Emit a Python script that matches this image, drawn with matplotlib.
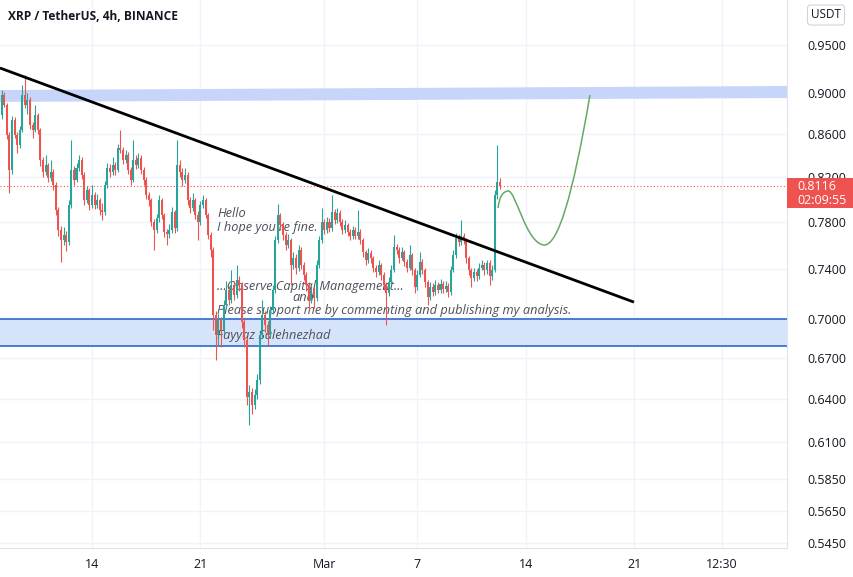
import numpy as np
import matplotlib
matplotlib.use('Agg')
import matplotlib.pyplot as plt
import matplotlib.transforms as mtransforms
from matplotlib.patches import Polygon, Rectangle, PathPatch
from matplotlib.path import Path
from matplotlib.ticker import FixedLocator, FixedFormatter, NullLocator

plt.rcParams['font.family'] = ['Open Sans', 'DejaVu Sans']

# XRP/USDT 4h candles, x axis in days counted from Feb 1 (first bar Feb 8 04:00)
first_day = 7 + 1 / 6
first_open = 0.8787
closes = [
    0.8984, 0.8885, 0.8592, 0.8263, 0.8738, 0.8592,
    0.8497, 0.8640, 0.8984, 0.8885, 0.8934, 0.8689,
    0.8640, 0.8787, 0.8640, 0.8356, 0.8245, 0.8310,
    0.8189, 0.8245, 0.8126, 0.7902, 0.7728, 0.7642,
    0.7684, 0.7625, 0.7946, 0.8263, 0.8171, 0.8282,
    0.8356, 0.8217, 0.7990, 0.8080, 0.7946, 0.8036,
    0.7946, 0.7990, 0.7902, 0.7884, 0.8126, 0.8282,
    0.8245, 0.8310, 0.8263, 0.8469, 0.8450, 0.8356,
    0.8403, 0.8263, 0.8171, 0.8356, 0.8310, 0.8375,
    0.8263, 0.8171, 0.8036, 0.7990, 0.7797, 0.7728,
    0.7832, 0.7990, 0.7858, 0.7711, 0.7693, 0.7728,
    0.7884, 0.7745, 0.8310, 0.8245, 0.8171, 0.8217,
    0.7990, 0.7920, 0.7990, 0.7858, 0.7797, 0.7946,
    0.7990, 0.7858, 0.7684, 0.7557, 0.7028, 0.6873,
    0.6989, 0.6912, 0.7107, 0.7228, 0.7147, 0.7268,
    0.7187, 0.7308, 0.7268, 0.6974, 0.6835, 0.6416,
    0.6450, 0.6357, 0.6428, 0.6536, 0.6873, 0.7028,
    0.6950, 0.6873, 0.7067, 0.7228, 0.7642, 0.7858,
    0.7771, 0.7684, 0.7599, 0.7642, 0.7432, 0.7490,
    0.7407, 0.7557, 0.7432, 0.7349, 0.7268, 0.7147,
    0.7228, 0.7163, 0.7432, 0.7642, 0.7797, 0.7728,
    0.7797, 0.7745, 0.7884, 0.7815, 0.7876, 0.7797,
    0.7728, 0.7771, 0.7711, 0.7676, 0.7728, 0.7676,
    0.7711, 0.7642, 0.7540, 0.7473, 0.7532, 0.7490,
    0.7407, 0.7374, 0.7432, 0.7349, 0.7268, 0.7203,
    0.7292, 0.7390, 0.7582, 0.7557, 0.7490, 0.7540,
    0.7457, 0.7407, 0.7515, 0.7390, 0.7252, 0.7349,
    0.7457, 0.7390, 0.7292, 0.7171, 0.7252, 0.7212,
    0.7268, 0.7228, 0.7276, 0.7236, 0.7260, 0.7212,
    0.7390, 0.7515, 0.7659, 0.7625, 0.7676, 0.7642,
    0.7490, 0.7390, 0.7325, 0.7374, 0.7341, 0.7407,
    0.7432, 0.7390, 0.7448, 0.7341, 0.7390, 0.8036,
    0.8153, 0.8116,
]
highs = [
    0.9030, 0.9010, 0.8900, 0.8620, 0.8780, 0.8770,
    0.8620, 0.8680, 0.9086, 0.9187, 0.9000, 0.8960,
    0.8720, 0.8885, 0.8810, 0.8660, 0.8380, 0.8400,
    0.8330, 0.8356, 0.8270, 0.8150, 0.7930, 0.7760,
    0.7750, 0.7720, 0.7990, 0.8544, 0.8300, 0.8330,
    0.8403, 0.8380, 0.8240, 0.8120, 0.8100, 0.8126,
    0.8060, 0.8040, 0.8010, 0.7960, 0.8160, 0.8330,
    0.8320, 0.8380, 0.8340, 0.8510, 0.8640, 0.8480,
    0.8450, 0.8430, 0.8290, 0.8544, 0.8400, 0.8420,
    0.8400, 0.8290, 0.8200, 0.8060, 0.8010, 0.7820,
    0.7870, 0.8036, 0.8010, 0.7880, 0.7740, 0.7780,
    0.7930, 0.7900, 0.8544, 0.8360, 0.8280, 0.8280,
    0.8240, 0.8020, 0.8050, 0.8010, 0.7890, 0.7980,
    0.8036, 0.8010, 0.7880, 0.7710, 0.7580, 0.7060,
    0.7040, 0.7010, 0.7150, 0.7300, 0.7260, 0.7390,
    0.7300, 0.7432, 0.7340, 0.7290, 0.7000, 0.6860,
    0.6500, 0.6480, 0.6470, 0.6580, 0.6900, 0.7147,
    0.7060, 0.6980, 0.7100, 0.7270, 0.7680, 0.7955,
    0.7880, 0.7800, 0.7710, 0.7690, 0.7660, 0.7540,
    0.7520, 0.7600, 0.7580, 0.7460, 0.7370, 0.7290,
    0.7270, 0.7250, 0.7470, 0.7680, 0.7920, 0.7820,
    0.7840, 0.7830, 0.8036, 0.7910, 0.7920, 0.7900,
    0.7820, 0.7810, 0.7790, 0.7740, 0.7760, 0.7750,
    0.7902, 0.7740, 0.7660, 0.7560, 0.7570, 0.7560,
    0.7510, 0.7430, 0.7470, 0.7450, 0.7370, 0.7290,
    0.7330, 0.7430, 0.7684, 0.7610, 0.7580, 0.7580,
    0.7560, 0.7480, 0.7599, 0.7530, 0.7410, 0.7390,
    0.7540, 0.7480, 0.7410, 0.7310, 0.7290, 0.7280,
    0.7310, 0.7290, 0.7320, 0.7300, 0.7300, 0.7280,
    0.7420, 0.7560, 0.7700, 0.7690, 0.7815, 0.7700,
    0.7660, 0.7510, 0.7410, 0.7410, 0.7400, 0.7450,
    0.7470, 0.7460, 0.7473, 0.7470, 0.7430, 0.8080,
    0.8497, 0.8190,
]
lows = [
    0.8750, 0.8860, 0.8550, 0.8050, 0.8230, 0.8560,
    0.8420, 0.8470, 0.8620, 0.8850, 0.8800, 0.8650,
    0.8560, 0.8620, 0.8600, 0.8300, 0.8200, 0.8220,
    0.8150, 0.8160, 0.8080, 0.7860, 0.7680, 0.7460,
    0.7600, 0.7550, 0.7600, 0.7920, 0.8130, 0.8150,
    0.8250, 0.8180, 0.7950, 0.7960, 0.7900, 0.7920,
    0.7910, 0.7920, 0.7858, 0.7815, 0.7860, 0.8100,
    0.8200, 0.8220, 0.8220, 0.8240, 0.8420, 0.8320,
    0.8330, 0.8230, 0.8126, 0.8150, 0.8270, 0.8280,
    0.8230, 0.8130, 0.8000, 0.7940, 0.7760, 0.7557,
    0.7700, 0.7800, 0.7820, 0.7670, 0.7600, 0.7660,
    0.7700, 0.7700, 0.7720, 0.8200, 0.8120, 0.8140,
    0.7950, 0.7880, 0.7890, 0.7820, 0.7642, 0.7770,
    0.7920, 0.7830, 0.7650, 0.7500, 0.6912, 0.6685,
    0.6800, 0.6782, 0.6890, 0.7080, 0.7110, 0.7120,
    0.7150, 0.7160, 0.7220, 0.6930, 0.6780, 0.6360,
    0.6216, 0.6290, 0.6330, 0.6400, 0.6510, 0.6850,
    0.6900, 0.6800, 0.6850, 0.7040, 0.7200, 0.7620,
    0.7730, 0.7640, 0.7560, 0.7570, 0.7268, 0.7400,
    0.7360, 0.7380, 0.7400, 0.7310, 0.7220, 0.7067,
    0.7120, 0.7080, 0.7140, 0.7410, 0.7620, 0.7690,
    0.7700, 0.7710, 0.7720, 0.7780, 0.7790, 0.7760,
    0.7690, 0.7700, 0.7680, 0.7640, 0.7650, 0.7650,
    0.7650, 0.7610, 0.7500, 0.7430, 0.7450, 0.7450,
    0.7370, 0.7330, 0.7350, 0.7310, 0.7230, 0.6950,
    0.7180, 0.7270, 0.7370, 0.7520, 0.7450, 0.7470,
    0.7420, 0.7370, 0.7390, 0.7350, 0.7203, 0.7230,
    0.7330, 0.7360, 0.7250, 0.7107, 0.7150, 0.7180,
    0.7190, 0.7200, 0.7200, 0.7200, 0.7210, 0.7170,
    0.7190, 0.7370, 0.7490, 0.7590, 0.7600, 0.7610,
    0.7450, 0.7350, 0.7252, 0.7300, 0.7300, 0.7320,
    0.7390, 0.7350, 0.7360, 0.7268, 0.7310, 0.7370,
    0.8000, 0.8090,
]

price_ticks = [0.95, 0.90, 0.86, 0.82, 0.78, 0.74, 0.70, 0.67, 0.64,
               0.61, 0.585, 0.565, 0.545]
day_ticks = [13, 20, 28, 34, 41, 48, 53.67]
day_labels = ['14', '21', 'Mar', '7', '14', '21', '12:30']

# drawings
trend_days = [7.06, 47.99]
trend_prices = [0.9259, 0.7130]
band_days = [7.06, 57.87]
band_top = [0.9034, 0.9075]
band_bottom = [0.8915, 0.8954]
support_zone = (0.6790, 0.7000)
# projected path: cubic bezier control points (day, price)
path_days = [39.21, 39.34, 39.53, 39.86, 40.37, 41.02, 42.24, 43.08, 43.99, 45.15]
path_prices = [0.7920, 0.8036, 0.8063, 0.8072, 0.8080, 0.7599, 0.7599,
               0.7616, 0.7990, 0.8984]

notes = [
    ('Hello', 21.07, 0.7867, 'left'),
    ("I hope you're fine.", 21.07, 0.7745, 'left'),
    ('...Observe Capital Management...', 21.07, 0.7252, 'left'),
    ('and', 26.62, 0.7163, 'center'),
    ('Please support me by commenting and publishing my analysis.', 21.07, 0.7060, 'left'),
    ('Fayyaz Salehnezhad', 21.07, 0.6873, 'left'),
]

up_col = '#26a69a'
dn_col = '#ef5350'
txt_col = '#131722'
grid_col = '#f0f3fa'

fig = plt.figure(figsize=(8.54, 5.77), dpi=100)
ax = fig.add_axes([0, 29 / 577, 787 / 854, 548 / 577])
ax.set_yscale('log')

closes = np.array(closes)
highs = np.array(highs)
lows = np.array(lows)
days = first_day + np.arange(len(closes)) / 6
opens = np.r_[first_open, closes[:-1]]
cols = np.where(closes >= opens, up_col, dn_col)

# zones
ax.add_patch(Polygon([(band_days[0], band_bottom[0]), (band_days[0], band_top[0]),
                      (band_days[1], band_top[1]), (band_days[1], band_bottom[1])],
                     closed=True, facecolor='#c7d5fb', edgecolor='none', zorder=1))
ax.axhspan(support_zone[0], support_zone[1], facecolor='#d6e4fb', edgecolor='none', zorder=1)
ax.axhline(support_zone[0], color='#4a7bd0', lw=1.4, zorder=1.2)
ax.axhline(support_zone[1], color='#4a7bd0', lw=1.4, zorder=1.2)

for txt, d, p, ha in notes:
    ax.text(d, p, txt, ha=ha, va='center', style='italic', fontsize=9.2,
            color='#4c4f5a', zorder=2)

ax.axhline(closes[-1], color=dn_col, lw=0.8, ls=(0, (1, 2)), zorder=2.5)

ax.vlines(days, lows, highs, colors=cols, linewidth=0.8, zorder=3)
ax.bar(days, np.abs(closes - opens), bottom=np.minimum(opens, closes),
       width=0.13, color=cols, linewidth=0, zorder=3.1)

ax.plot(trend_days, trend_prices, color='black', lw=2, zorder=4,
        solid_capstyle='butt')

codes = [Path.MOVETO] + [Path.CURVE4] * 9
ax.add_patch(PathPatch(Path(np.column_stack([path_days, path_prices]), codes),
                       facecolor='none', edgecolor='#66a866', lw=1.1, zorder=4))

ax.set_xlim(7.061, 57.87)
ax.set_ylim(0.5419, 0.9989)

ax.yaxis.tick_right()
ax.yaxis.set_major_locator(FixedLocator(price_ticks))
ax.yaxis.set_major_formatter(FixedFormatter([f'{p:.4f}' for p in price_ticks]))
ax.yaxis.set_minor_locator(NullLocator())
ax.set_xticks(day_ticks, day_labels)
ax.tick_params(axis='y', length=0, pad=14.5, labelsize=9, labelcolor=txt_col)
ax.tick_params(axis='x', length=0, pad=7, labelsize=9, labelcolor=txt_col)
ax.grid(True, color=grid_col, lw=1, zorder=0)
ax.set_axisbelow(True)
for s in ['top', 'left']:
    ax.spines[s].set_visible(False)
for s in ['right', 'bottom']:
    ax.spines[s].set_color('#e0e3eb')

# last price label on the price scale
blend = mtransforms.blended_transform_factory(ax.transAxes, ax.transData)
ax.add_patch(Rectangle((1.0, 0.7920), 0.085, 0.8190 - 0.7920, transform=blend,
                       facecolor=dn_col, edgecolor='none', clip_on=False, zorder=5))
ax.text(1.013, closes[-1], f'{closes[-1]:.4f}', transform=blend, ha='left',
        va='center', color='white', fontsize=9, zorder=6)
ax.text(1.013, 0.7988, '02:09:55', transform=blend, ha='left',
        va='center', color='white', fontsize=9, zorder=6)

fig.text(826 / 854, 1 - 15 / 577, 'USDT', ha='center', va='center', fontsize=8.5,
         color=txt_col, bbox=dict(boxstyle='round,pad=0.3', fc='white', ec='#d1d4dc', lw=0.8))
fig.text(8 / 854, 1 - 16 / 577, 'XRP / TetherUS, 4h, BINANCE', ha='left', va='center',
         fontsize=8.6, fontweight='bold', color=txt_col)

fig.savefig('out.png', dpi=100)
